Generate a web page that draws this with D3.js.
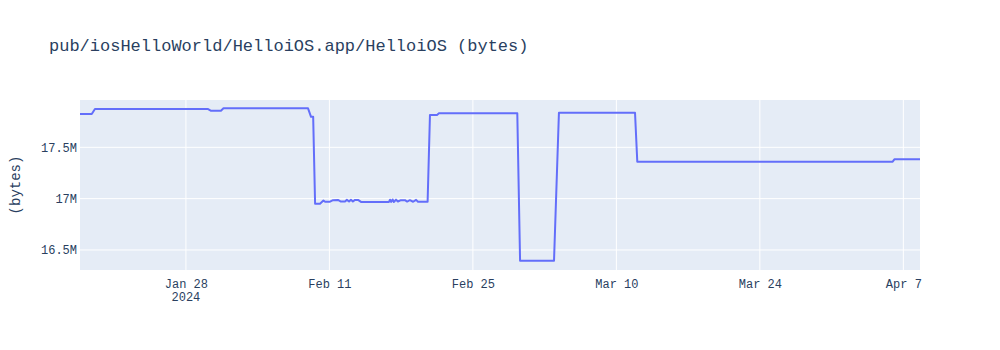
<!DOCTYPE html>
<html>
<head>
<meta charset="utf-8">
<script src="https://cdn.jsdelivr.net/npm/d3@7"></script>
<style>
  body { margin: 0; background: #fff; }
  svg { display: block; }
</style>
</head>
<body>
<div id="chart"></div>
<script>
// Data (time, size in bytes)
const chartTitle = 'pub/iosHelloWorld/HelloiOS.app/HelloiOS (bytes)';
const yAxisTitle = '(bytes)';

const times = [
  '2024-01-17T16:00', '2024-01-18T19:30', '2024-01-19T03:00', '2024-01-30T04:00',
  '2024-01-30T11:00', '2024-01-31T10:00', '2024-01-31T16:00', '2024-02-08T22:00',
  '2024-02-09T05:00', '2024-02-09T10:00', '2024-02-09T14:30', '2024-02-10T02:00',
  '2024-02-10T10:00', '2024-02-10T14:00', '2024-02-11T01:30', '2024-02-11T08:30',
  '2024-02-11T20:00', '2024-02-12T03:00', '2024-02-12T12:30', '2024-02-12T17:00',
  '2024-02-12T22:00', '2024-02-13T02:30', '2024-02-13T07:00', '2024-02-13T12:00',
  '2024-02-13T19:00', '2024-02-14T02:00', '2024-02-16T19:30', '2024-02-16T22:00',
  '2024-02-17T00:30', '2024-02-17T04:00', '2024-02-17T07:00', '2024-02-17T12:00',
  '2024-02-17T16:30', '2024-02-17T23:30', '2024-02-18T09:00', '2024-02-18T14:00',
  '2024-02-18T20:30', '2024-02-19T04:00', '2024-02-19T11:00', '2024-02-19T15:30',
  '2024-02-20T14:00', '2024-02-20T19:30', '2024-02-21T12:00', '2024-02-21T16:30',
  '2024-02-29T08:00', '2024-02-29T14:30', '2024-03-03T22:00', '2024-03-04T09:30',
  '2024-03-11T19:40', '2024-03-12T01:00', '2024-04-05T23:00', '2024-04-06T03:00',
  '2024-04-08T15:00'
];

const sizes = [
  17824000, 17824000, 17873000, 17873000,
  17856000, 17856000, 17880000, 17880000,
  17797000, 17797000, 16951000, 16951000,
  16982000, 16970000, 16970000, 16985000,
  16988000, 16972000, 16972000, 16988000,
  16972000, 16990000, 16972000, 16988000,
  16988000, 16968000, 16968000, 16990000,
  16968000, 16992000, 16968000, 16990000,
  16972000, 16985000, 16985000, 16972000,
  16985000, 16970000, 16988000, 16970000,
  16970000, 17815000, 17815000, 17831000,
  17831000, 16396000, 16396000, 17837000,
  17837000, 17360000, 17360000, 17383000,
  17383000
];

const xTicks = ['2024-01-28', '2024-02-11', '2024-02-25', '2024-03-10', '2024-03-24', '2024-04-07'];
const yTicks = [16500000, 17000000, 17500000];
const yRange = [16305000, 17961000];

function renderChart(container) {
  const width = 1000;
  const height = 350;
  const margin = { top: 100, right: 80, bottom: 80, left: 80 };
  const innerWidth = width - margin.left - margin.right;
  const innerHeight = height - margin.top - margin.bottom;
  const font = '"Courier New", "Liberation Mono", monospace';
  const textColor = '#2a3f5f';

  const parse = s => new Date(s + (s.length === 10 ? 'T00:00Z' : 'Z'));
  const data = times.map((t, i) => ({ date: parse(t), value: sizes[i] }));

  const svg = d3.select(container)
    .append('svg')
    .attr('width', width)
    .attr('height', height)
    .style('font-family', font);

  // Title
  svg.append('text')
    .attr('x', 49)
    .attr('y', 51)
    .attr('fill', textColor)
    .style('font-size', '17px')
    .text(chartTitle);

  const g = svg.append('g')
    .attr('transform', `translate(${margin.left},${margin.top})`);

  g.append('rect')
    .attr('width', innerWidth)
    .attr('height', innerHeight)
    .attr('fill', '#e5ecf6');

  const xScale = d3.scaleUtc()
    .domain(d3.extent(data, d => d.date))
    .range([0, innerWidth]);

  const yScale = d3.scaleLinear()
    .domain(yRange)
    .range([innerHeight, 0]);

  const tickDates = xTicks.map(parse);

  // Gridlines
  g.append('g')
    .selectAll('line')
    .data(tickDates)
    .enter()
    .append('line')
    .attr('x1', d => xScale(d))
    .attr('x2', d => xScale(d))
    .attr('y1', 0)
    .attr('y2', innerHeight)
    .attr('stroke', '#fff')
    .attr('stroke-width', 1);

  g.append('g')
    .selectAll('line')
    .data(yTicks)
    .enter()
    .append('line')
    .attr('x1', 0)
    .attr('x2', innerWidth)
    .attr('y1', d => yScale(d))
    .attr('y2', d => yScale(d))
    .attr('stroke', '#fff')
    .attr('stroke-width', 1);

  // X axis
  const xAxis = g.append('g')
    .attr('transform', `translate(0,${innerHeight})`)
    .call(d3.axisBottom(xScale)
      .tickValues(tickDates)
      .tickSize(0)
      .tickPadding(9)
      .tickFormat(d3.utcFormat('%b %-d')));
  xAxis.select('.domain').remove();
  xAxis.selectAll('text')
    .style('font-size', '12px')
    .style('font-family', font)
    .attr('fill', textColor);

  g.append('text')
    .attr('x', xScale(tickDates[0]))
    .attr('y', innerHeight + 31)
    .attr('text-anchor', 'middle')
    .attr('fill', textColor)
    .style('font-size', '12px')
    .text('2024');

  // Y axis
  const yAxis = g.append('g')
    .call(d3.axisLeft(yScale)
      .tickValues(yTicks)
      .tickSize(0)
      .tickPadding(3)
      .tickFormat(d3.format('~s')));
  yAxis.select('.domain').remove();
  yAxis.selectAll('text')
    .style('font-size', '12px')
    .style('font-family', font)
    .attr('fill', textColor);

  svg.append('text')
    .attr('transform', `translate(20,${margin.top + innerHeight / 2}) rotate(-90)`)
    .attr('text-anchor', 'middle')
    .attr('fill', textColor)
    .style('font-size', '14px')
    .text(yAxisTitle);

  // Line
  const line = d3.line()
    .x(d => xScale(d.date))
    .y(d => yScale(d.value));

  g.append('path')
    .datum(data)
    .attr('fill', 'none')
    .attr('stroke', '#636efa')
    .attr('stroke-width', 2)
    .attr('stroke-linejoin', 'round')
    .attr('d', line);
}

renderChart(document.getElementById('chart'));
</script>
</body>
</html>
